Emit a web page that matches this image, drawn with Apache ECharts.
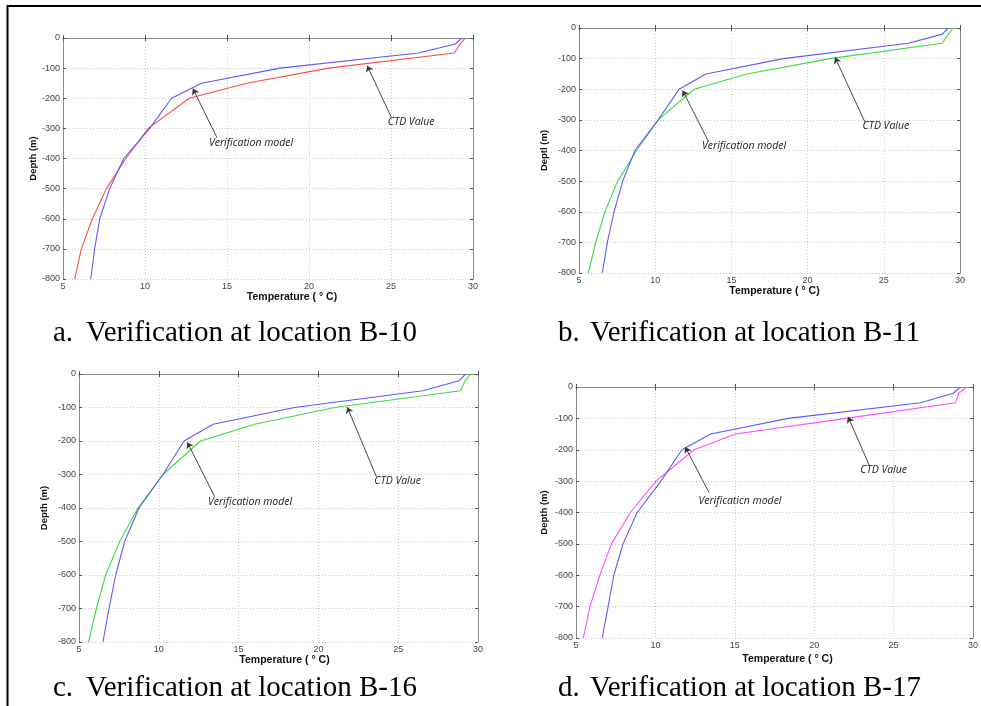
<!DOCTYPE html>
<html><head><meta charset="utf-8">
<script src="https://cdn.jsdelivr.net/npm/echarts@6/dist/echarts.min.js"></script>
<style>html,body{margin:0;padding:0;background:#fff}#c{width:981px;height:706px}</style>
</head><body><div id="c"></div>
<script>
// ---- data (temperature °C at each depth m) ----
const depths = [0, -20, -50, -100, -150, -200, -300, -400, -500, -600, -700, -800];
const modelB10 = [29.33, 28.92, 26.68, 18.23, 13.45, 11.62, 10.29, 8.70, 7.85, 7.24, 6.93, 6.69];
const ctdB10   = [29.53, 29.22, 28.86, 21.20, 16.20, 12.70, 10.20, 8.83, 7.65, 6.79, 6.12, 5.71];
const modelB11 = [29.23, 28.84, 26.61, 18.40, 13.33, 11.56, 10.20, 8.67, 7.87, 7.30, 6.86, 6.53];
const ctdB11   = [29.56, 29.23, 28.84, 21.47, 16.00, 12.55, 10.20, 8.78, 7.54, 6.70, 6.10, 5.61];
const modelB16 = [29.23, 28.81, 26.55, 18.50, 13.40, 11.58, 10.26, 8.76, 7.86, 7.30, 6.88, 6.50];
const ctdB16   = [29.54, 29.20, 28.90, 21.02, 16.00, 12.62, 10.26, 8.70, 7.55, 6.67, 6.09, 5.60];
const modelB17 = [29.21, 28.75, 26.70, 18.37, 13.48, 11.67, 10.35, 8.85, 7.96, 7.38, 7.02, 6.65];
const ctdB17   = [29.60, 29.10, 28.90, 22.00, 15.04, 12.44, 10.04, 8.42, 7.23, 6.50, 5.88, 5.46];

const captionLetters = ['a.', 'b.', 'c.', 'd.'];
const captionTexts = ['Verification at location B-10', 'Verification at location B-11',
                      'Verification at location B-16', 'Verification at location B-17'];
const yNames = ['Depth (m)', 'Deptl (m)', 'Depth (m)', 'Depth (m)'];
const xName = 'Temperature ( \u00b0 C)';
const modelLabels = ['Verification model', 'Verification model', 'Verification model', 'Verificaticn model'];
const ctdLabel = 'CTD Value';
// annotation anchors in data units: [tailT, tailD, headT, headD, textT, textD]
const modelArrows = [[14.39, -331, 12.92, -168, 13.9, -348], [13.49, -370, 11.8, -204, 13.07, -384],
                     [13.5, -366, 11.79, -204, 13.08, -383], [13.38, -337, 11.88, -191, 12.71, -362]];
const ctdArrows = [[25.0, -261, 23.55, -92, 24.8, -278], [23.77, -308, 21.8, -96, 23.6, -319],
                   [23.63, -306, 21.81, -99, 23.5, -318], [23.48, -251, 22.13, -95, 22.9, -265]];

// ---- layout ----
const panels = [
  {grid: {left: 63, top: 38, width: 410, height: 241}, model: modelB10, ctd: ctdB10, ctdColor: '#ff4a4a', xGap: 13, yGap: 25, xShift: 48},
  {grid: {left: 579, top: 28, width: 381, height: 245}, model: modelB11, ctd: ctdB11, ctdColor: '#3ddc3d', xGap: 8, yGap: 30, xShift: 10},
  {grid: {left: 79, top: 374, width: 399, height: 268}, model: modelB16, ctd: ctdB16, ctdColor: '#3ddc3d', xGap: 10, yGap: 30, xShift: 12},
  {grid: {left: 576, top: 387, width: 400, height: 251}, model: modelB17, ctd: ctdB17, ctdColor: '#ff4dff', xGap: 16, yGap: 27, xShift: 26}
];
const captionPos = [[53, 86, 336], [558, 590, 336], [53, 86, 691], [558, 590, 691]];

const grids = [], xAxes = [], yAxes = [], series = [], graphics = [];
const axisCol = '#8a8a8a';
panels.forEach((p, i) => {
  grids.push(Object.assign({containLabel: false}, p.grid));
  const base = {gridIndex: i, min: 5, max: 30, interval: 5};
  xAxes.push(Object.assign({}, base, {
    type: 'value', position: 'bottom', name: xName, nameLocation: 'middle', nameGap: p.xGap,
    nameTextStyle: {fontFamily: 'Liberation Sans', fontWeight: 'bold', fontSize: 10.5, color: '#111', padding: [0, 0, 0, p.xShift]},
    axisLine: {show: true, lineStyle: {color: axisCol}}, axisTick: {inside: true, length: 3, lineStyle: {color: '#555'}},
    axisLabel: {fontFamily: 'Liberation Sans', fontSize: 9, color: '#444', margin: 3},
    splitLine: {show: true, lineStyle: {color: '#c8c8c8', type: [1, 2], width: 1}}
  }));
  xAxes.push(Object.assign({}, base, {
    type: 'value', position: 'top', axisLine: {show: true, lineStyle: {color: axisCol}},
    axisTick: {inside: true, length: 3, lineStyle: {color: '#555'}}, axisLabel: {show: false}, splitLine: {show: false}
  }));
  const ybase = {gridIndex: i, min: -800, max: 0, interval: 100};
  yAxes.push(Object.assign({}, ybase, {
    type: 'value', position: 'left', name: yNames[i], nameLocation: 'middle', nameGap: p.yGap,
    nameTextStyle: {fontFamily: 'Liberation Sans', fontWeight: 'bold', fontSize: 9.5, color: '#111'},
    axisLine: {show: true, lineStyle: {color: axisCol}}, axisTick: {inside: true, length: 3, lineStyle: {color: '#555'}},
    axisLabel: {fontFamily: 'Liberation Sans', fontSize: 9, color: '#444', margin: 3},
    splitLine: {show: true, lineStyle: {color: '#c8c8c8', type: [1, 2], width: 1}}
  }));
  yAxes.push(Object.assign({}, ybase, {
    type: 'value', position: 'right', axisLine: {show: true, lineStyle: {color: axisCol}},
    axisTick: {inside: true, length: 3, lineStyle: {color: '#555'}}, axisLabel: {show: false}, splitLine: {show: false}
  }));
  const xi = i * 2, yi = i * 2;
  const ma = modelArrows[i], ca = ctdArrows[i];
  const arrowStyle = {color: '#333', width: 0.9, type: 'solid'};
  const annoLabel = {show: true, position: 'right', distance: 0, fontFamily: 'Open Sans', fontStyle: 'italic', fontSize: 10.5, color: '#222'};
  series.push({
    type: 'line', xAxisIndex: xi, yAxisIndex: yi, name: 'CTD Value', showSymbol: false, symbol: 'none',
    lineStyle: {color: p.ctdColor, width: 1.1}, z: 3,
    data: depths.map((d, k) => [p.ctd[k], d]),
    markLine: {silent: true, symbol: ['none', 'arrow'], symbolSize: 6, label: {show: false}, lineStyle: arrowStyle,
      data: [[{coord: [ca[0], ca[1]]}, {coord: [ca[2], ca[3]]}]]},
    markPoint: {silent: true, symbol: 'circle', symbolSize: 0, label: Object.assign({formatter: ctdLabel}, annoLabel),
      data: [{coord: [ca[4], ca[5]]}]}
  });
  series.push({
    type: 'line', xAxisIndex: xi, yAxisIndex: yi, name: 'Verification model', showSymbol: false, symbol: 'none',
    lineStyle: {color: '#5b5bff', width: 1.1}, z: 4,
    data: depths.map((d, k) => [p.model[k], d]),
    markLine: {silent: true, symbol: ['none', 'arrow'], symbolSize: 6, label: {show: false}, lineStyle: arrowStyle,
      data: [[{coord: [ma[0], ma[1]]}, {coord: [ma[2], ma[3]]}]]},
    markPoint: {silent: true, symbol: 'circle', symbolSize: 0, label: Object.assign({formatter: modelLabels[i]}, annoLabel),
      data: [{coord: [ma[4], ma[5]]}]}
  });
  const cp = captionPos[i];
  graphics.push({type: 'text', left: cp[0], top: cp[2] - 17, style: {text: captionLetters[i], font: '29px "Liberation Serif"', fill: '#000'}});
  graphics.push({type: 'text', left: cp[1], top: cp[2] - 17, style: {text: captionTexts[i], font: '29px "Liberation Serif"', fill: '#000'}});
});
// figure frame
graphics.push({type: 'line', shape: {x1: 7, y1: 6, x2: 981, y2: 6}, style: {stroke: '#000', lineWidth: 2}});
graphics.push({type: 'line', shape: {x1: 7.5, y1: 5, x2: 7.5, y2: 706}, style: {stroke: '#000', lineWidth: 2}});

const chart = echarts.init(document.getElementById('c'), null, {renderer: 'canvas'});
chart.setOption({
  animation: false, backgroundColor: '#fff',
  grid: grids, xAxis: xAxes, yAxis: yAxes, series: series, graphic: graphics
});
</script></body></html>
